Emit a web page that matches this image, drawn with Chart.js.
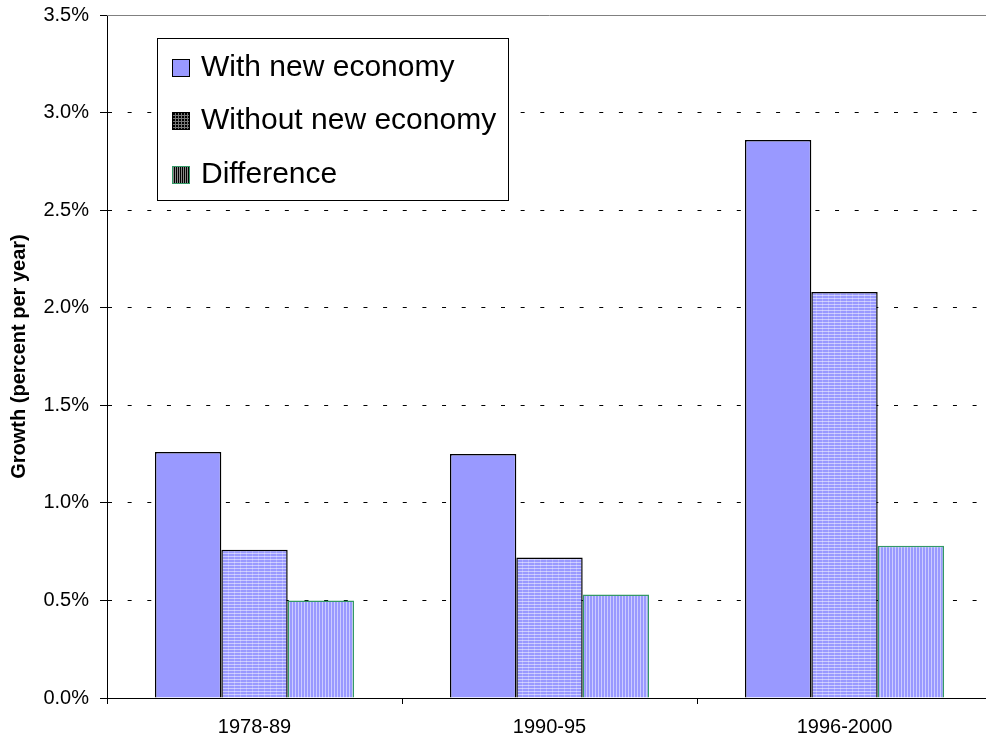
<!DOCTYPE html>
<html>
<head>
<meta charset="utf-8">
<script src="https://cdn.jsdelivr.net/npm/chart.js@4.4.0/dist/chart.umd.min.js"></script>
<style>
    html, body { margin: 0; padding: 0; background: #fff; overflow: hidden; }
    #wrap { width: 986px; height: 742px; overflow: hidden; }
</style>
</head>
<body>
<div id="wrap"><canvas id="growth" width="992" height="742"></canvas></div>
<script>
const periods = ['1978-89', '1990-95', '1996-2000'];
const withNewEconomy = [1.26, 1.25, 2.86];
const withoutNewEconomy = [0.76, 0.72, 2.08];
const difference = [0.50, 0.53, 0.78];
const seriesNames = ['With new economy', 'Without new economy', 'Difference'];

const FONT = '"Liberation Sans", Arial, sans-serif';
const scratch = document.createElement('canvas').getContext('2d');

// small repeating tiles for the hatched fills
function makePattern(w, h, base, draw) {
    const c = document.createElement('canvas');
    c.width = w;
    c.height = h;
    const g = c.getContext('2d');
    g.fillStyle = base;
    g.fillRect(0, 0, w, h);
    draw(g);
    return scratch.createPattern(c, 'repeat');
}

const gridFill = makePattern(6, 3, '#9999ff', g => {
    g.fillStyle = 'rgba(255,255,255,0.5)';
    g.fillRect(0, 1, 6, 1);
    g.fillStyle = 'rgba(255,255,255,0.25)';
    g.fillRect(0, 0, 1, 3);
});
const stripeFill = makePattern(3, 4, '#9999ff', g => {
    g.fillStyle = 'rgba(255,255,255,0.5)';
    g.fillRect(1, 0, 1, 4);
});
const gridKey = makePattern(3, 3, '#000', g => {
    g.fillStyle = '#777';
    g.fillRect(0, 1, 3, 1);
    g.fillRect(1, 0, 1, 3);
});
const stripeKey = makePattern(2, 2, '#000', g => {
    g.fillStyle = '#888';
    g.fillRect(1, 0, 1, 2);
});
const keyFills = ['#9999ff', gridKey, stripeKey];

// boxed key sitting inside the plot, upper left
const boxLegend = {
    id: 'boxLegend',
    afterDraw(chart) {
        const ctx = chart.ctx;
        ctx.save();
        ctx.fillStyle = '#fff';
        ctx.fillRect(157.5, 38.5, 351, 162);
        ctx.strokeStyle = '#000';
        ctx.lineWidth = 1;
        ctx.strokeRect(157.5, 38.5, 351, 162);
        ctx.font = '30px ' + FONT;
        ctx.textBaseline = 'middle';
        chart.data.datasets.forEach((ds, i) => {
            const y = 67.5 + i * 53.5;
            ctx.fillStyle = keyFills[i];
            ctx.fillRect(172, Math.round(y - 9), 18, 18);
            ctx.strokeStyle = ds.borderColor;
            ctx.strokeRect(172.5, Math.round(y - 9) + 0.5, 17, 17);
            ctx.fillStyle = '#000';
            ctx.fillText(ds.label, 201, y);
        });
        ctx.restore();
    }
};

const topBorder = {
    id: 'topBorder',
    afterDatasetsDraw(chart) {
        const { ctx, chartArea } = chart;
        ctx.save();
        ctx.strokeStyle = '#808080';
        ctx.lineWidth = 1;
        ctx.beginPath();
        ctx.moveTo(chartArea.left, chartArea.top + 0.5);
        ctx.lineTo(chartArea.right, chartArea.top + 0.5);
        ctx.stroke();
        ctx.restore();
    }
};

new Chart(document.getElementById('growth'), {
    type: 'bar',
    data: {
        labels: periods,
        datasets: [
            { label: seriesNames[0], data: withNewEconomy, backgroundColor: '#9999ff', borderColor: '#000', borderWidth: 1.5 },
            { label: seriesNames[1], data: withoutNewEconomy, backgroundColor: gridFill, borderColor: '#000', borderWidth: 1.5 },
            { label: seriesNames[2], data: difference, backgroundColor: stripeFill, borderColor: '#339966', borderWidth: 1.5 }
        ]
    },
    options: {
        responsive: false,
        animation: false,
        devicePixelRatio: 1,
        layout: { padding: { top: 15, right: 0, left: 0, bottom: 0 } },
        datasets: { bar: { categoryPercentage: 0.675, barPercentage: 1 } },
        plugins: {
            legend: { display: false },
            tooltip: { enabled: false }
        },
        scales: {
            x: {
                afterFit(scale) { scale.height = 44; },
                grid: { drawOnChartArea: false, tickLength: 6, tickColor: '#000' },
                border: { color: '#000', width: 1 },
                ticks: { color: '#000', font: { family: FONT, size: 20 }, padding: 11 }
            },
            y: {
                min: 0,
                max: 3.5,
                afterFit(scale) {
                    scale.width = 107;
                    scale.paddingTop = 0;
                    scale.paddingBottom = 0;
                },
                ticks: {
                    stepSize: 0.5,
                    color: '#000',
                    padding: 11,
                    font: { family: FONT, size: 20 },
                    callback: v => v.toFixed(1) + '%'
                },
                grid: {
                    color: c => (c.tick && c.tick.value >= 3.5 ? 'rgba(0,0,0,0)' : '#000'),
                    tickColor: '#000',
                    tickLength: 7,
                    tickBorderDash: []
                },
                border: { color: '#000', width: 1, dash: [4, 15.65] },
                title: {
                    display: true,
                    text: 'Growth (percent per year)',
                    color: '#000',
                    font: { family: FONT, size: 20, weight: 'bold' },
                    padding: { top: 7, bottom: 0 }
                }
            }
        }
    },
    plugins: [topBorder, boxLegend]
});
</script>
</body>
</html>
